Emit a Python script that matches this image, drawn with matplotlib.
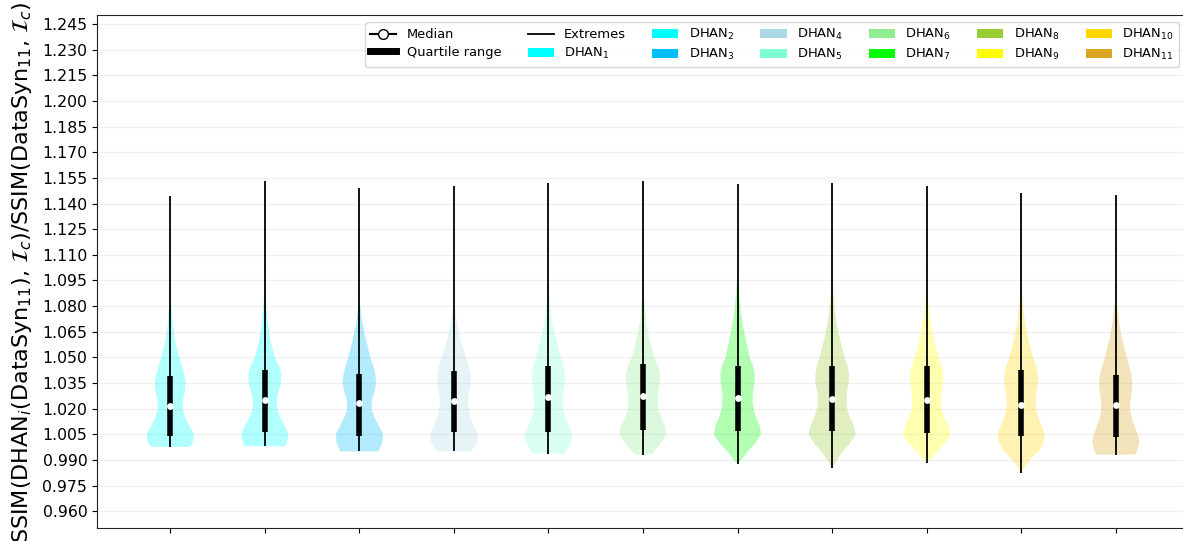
import matplotlib
matplotlib.use("Agg")
import matplotlib.pyplot as plt
from matplotlib.lines import Line2D
from matplotlib.patches import Patch
import numpy as np

# ---- data -------------------------------------------------------------
labels = [f"DHAN$_{{{i}}}$" for i in range(1, 12)]
colors = ["cyan", "aqua", "deepskyblue", "lightblue", "aquamarine",
          "lightgreen", "lime", "yellowgreen", "yellow", "gold", "goldenrod"]

mins = [0.9976, 0.9980, 0.9950, 0.9950, 0.9937, 0.9931, 0.9877, 0.9854, 0.9883, 0.9824, 0.9931]
maxs = [1.1441, 1.1529, 1.1490, 1.1500, 1.1519, 1.1529, 1.1513, 1.1519, 1.1504, 1.1461, 1.1451]
q1 = [1.0042, 1.0062, 1.0038, 1.0064, 1.0064, 1.0073, 1.0068, 1.0068, 1.0058, 1.0042, 1.0035]
medians = [1.0214, 1.0253, 1.0233, 1.0247, 1.0266, 1.0272, 1.0263, 1.0259, 1.0253, 1.0219, 1.0222]
q3 = [1.0389, 1.0428, 1.0403, 1.0418, 1.0448, 1.0461, 1.0452, 1.0448, 1.0448, 1.0428, 1.0399]

# density profiles (level, relative density) for each distribution
density_levels = [
    [0.9976, 1.000, 1.005, 1.010, 1.015, 1.020, 1.025, 1.030, 1.035, 1.040, 1.045, 1.050, 1.060, 1.070, 1.080, 1.091],
    [0.9980, 1.000, 1.005, 1.010, 1.015, 1.020, 1.025, 1.030, 1.035, 1.040, 1.045, 1.050, 1.060, 1.070, 1.080, 1.090, 1.096],
    [0.9950, 1.000, 1.005, 1.010, 1.015, 1.020, 1.025, 1.030, 1.035, 1.040, 1.045, 1.050, 1.060, 1.070, 1.080, 1.086],
    [0.9950, 1.000, 1.005, 1.010, 1.015, 1.020, 1.025, 1.030, 1.035, 1.040, 1.045, 1.050, 1.060, 1.070, 1.080, 1.084],
    [0.9937, 1.000, 1.005, 1.010, 1.015, 1.020, 1.025, 1.030, 1.035, 1.040, 1.045, 1.050, 1.060, 1.070, 1.080, 1.090, 1.096],
    [0.9931, 0.995, 1.000, 1.005, 1.010, 1.015, 1.020, 1.025, 1.030, 1.035, 1.040, 1.045, 1.050, 1.060, 1.070, 1.080, 1.090, 1.092],
    [0.9877, 0.990, 0.995, 1.000, 1.005, 1.010, 1.015, 1.020, 1.025, 1.030, 1.035, 1.040, 1.045, 1.050, 1.060, 1.070, 1.080, 1.090, 1.100, 1.106],
    [0.9854, 0.990, 0.995, 1.000, 1.005, 1.010, 1.015, 1.020, 1.025, 1.030, 1.035, 1.040, 1.045, 1.050, 1.060, 1.070, 1.080, 1.090, 1.098],
    [0.9883, 0.990, 0.995, 1.000, 1.005, 1.010, 1.015, 1.020, 1.025, 1.030, 1.035, 1.040, 1.045, 1.050, 1.060, 1.070, 1.080, 1.091],
    [0.9824, 0.985, 0.990, 0.995, 1.000, 1.005, 1.010, 1.015, 1.020, 1.025, 1.030, 1.035, 1.040, 1.045, 1.050, 1.060, 1.070, 1.080, 1.090, 1.096],
    [0.9931, 0.995, 1.000, 1.005, 1.010, 1.015, 1.020, 1.025, 1.030, 1.035, 1.040, 1.045, 1.050, 1.060, 1.070, 1.080, 1.088],
]
density_values = [
    [0.80, 0.96, 1.00, 0.80, 0.62, 0.53, 0.54, 0.62, 0.65, 0.60, 0.50, 0.38, 0.20, 0.11, 0.05, 0.00],
    [0.85, 0.93, 1.00, 0.85, 0.65, 0.52, 0.50, 0.58, 0.68, 0.70, 0.60, 0.42, 0.24, 0.13, 0.06, 0.02, 0.00],
    [0.79, 0.95, 0.98, 0.80, 0.62, 0.50, 0.52, 0.63, 0.70, 0.66, 0.57, 0.46, 0.28, 0.13, 0.04, 0.00],
    [0.73, 0.95, 0.98, 0.82, 0.68, 0.60, 0.58, 0.64, 0.70, 0.69, 0.62, 0.50, 0.28, 0.14, 0.03, 0.00],
    [0.66, 0.95, 1.00, 0.85, 0.70, 0.62, 0.60, 0.64, 0.70, 0.70, 0.64, 0.52, 0.34, 0.17, 0.08, 0.03, 0.00],
    [0.31, 0.45, 0.74, 0.97, 0.90, 0.74, 0.62, 0.60, 0.63, 0.69, 0.70, 0.62, 0.46, 0.28, 0.14, 0.07, 0.01, 0.00],
    [0.00, 0.15, 0.42, 0.75, 0.98, 0.92, 0.76, 0.66, 0.62, 0.64, 0.70, 0.72, 0.64, 0.50, 0.35, 0.20, 0.11, 0.05, 0.015, 0.00],
    [0.00, 0.20, 0.45, 0.76, 0.98, 0.90, 0.74, 0.62, 0.59, 0.62, 0.69, 0.70, 0.64, 0.52, 0.34, 0.18, 0.10, 0.04, 0.00],
    [0.00, 0.12, 0.45, 0.78, 0.99, 0.90, 0.74, 0.62, 0.60, 0.63, 0.69, 0.70, 0.62, 0.49, 0.31, 0.17, 0.07, 0.00],
    [0.00, 0.12, 0.35, 0.72, 0.92, 0.98, 0.85, 0.70, 0.61, 0.60, 0.65, 0.71, 0.70, 0.62, 0.49, 0.31, 0.17, 0.08, 0.02, 0.00],
    [0.81, 0.88, 0.99, 0.92, 0.78, 0.66, 0.60, 0.62, 0.67, 0.70, 0.66, 0.56, 0.46, 0.28, 0.14, 0.06, 0.00],
]

yticks = np.round(np.arange(0.960, 1.2451, 0.015), 3)

# ---- figure -----------------------------------------------------------
plt.rcParams["font.family"] = ["DejaVu Sans"]
fig = plt.figure(figsize=(11.83, 5.41), dpi=100)
ax = fig.add_axes([0.0820, 0.0235, 0.9231, 0.9479])

positions = np.arange(1, len(labels) + 1)
stats = []
for i in range(len(labels)):
    stats.append(dict(coords=np.array(density_levels[i]),
                      vals=np.array(density_values[i]),
                      mean=medians[i], median=medians[i],
                      min=mins[i], max=maxs[i]))

parts = ax.violin(stats, positions=positions, widths=0.5,
                  showmeans=False, showextrema=False, showmedians=False)
for body, c in zip(parts["bodies"], colors):
    body.set_facecolor(c)
    body.set_edgecolor("none")
    body.set_alpha(0.3)

ax.vlines(positions, mins, maxs, color="black", lw=1.3, zorder=2)
ax.vlines(positions, q1, q3, color="black", lw=4.0, zorder=3)
ax.scatter(positions, medians, s=24, color="white", zorder=4, linewidths=0)

ax.set_xlim(0.225, 11.775)
ax.set_ylim(0.95, 1.25)
ax.set_yticks(yticks)
ax.set_yticklabels([f"{t:.3f}" for t in yticks])
ax.set_xticks(positions)
ax.set_xticklabels([""] * len(positions))
ax.tick_params(axis="y", labelsize=11.3)
ax.yaxis.grid(True, color="#f0f0f0", lw=1)
ax.set_axisbelow(True)
for s in ax.spines.values():
    s.set_color("#222222")

ax.set_ylabel(r"SSIM(DHAN$_i$(DataSyn$_{11}$), $\mathcal{I}_c$)/SSIM(DataSyn$_{11}$, $\mathcal{I}_c$)",
              fontsize=16)
ax.yaxis.set_label_coords(-0.058, 0.5)

handles = [
    Line2D([0], [0], color="black", lw=1.5, marker="o", markersize=7,
           markerfacecolor="white", markeredgecolor="black"),
    Line2D([0], [0], color="black", lw=5),
    Line2D([0], [0], color="black", lw=1.3),
] + [Patch(facecolor=c, edgecolor="none") for c in colors]
names = ["Median", "Quartile range", "Extremes"] + labels
fig.legend(handles, names, ncol=7, fontsize=9.4, loc="upper right",
           bbox_to_anchor=(1179 / 1183, 1 - 22 / 541), borderaxespad=0,
           columnspacing=2.0, labelspacing=0.35)

fig.savefig("out.png", dpi=100)
